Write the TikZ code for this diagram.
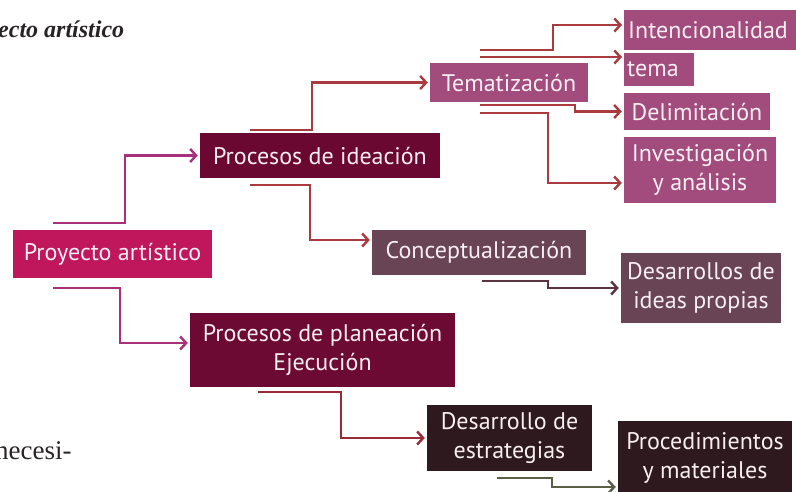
\documentclass[tikz,border=0pt]{standalone}
\usepackage{fontspec}
\newfontfamily\boxfont{PT Sans}
\newfontfamily\serffont{Liberation Serif}
\usetikzlibrary{arrows.meta}
\definecolor{proyC}{RGB}{192,22,92}
\definecolor{ideC}{RGB}{106,8,50}
\definecolor{temC}{RGB}{162,76,126}
\definecolor{conC}{RGB}{104,68,84}
\definecolor{plaC}{RGB}{108,10,52}
\definecolor{estC}{RGB}{46,26,30}
\definecolor{boxtext}{RGB}{248,238,242}
\definecolor{magLine}{RGB}{168,48,122}
\definecolor{redLine}{RGB}{168,58,64}
\definecolor{conLine}{RGB}{90,52,64}
\definecolor{plaLine}{RGB}{154,42,53}
\definecolor{estLine}{RGB}{92,95,72}
\definecolor{titleC}{RGB}{40,36,38}
\begin{document}
\begin{tikzpicture}[x=1pt,y=-1pt,
  box/.style={rectangle, inner sep=0pt, text=boxtext, align=center,
    font=\boxfont\fontsize{24}{29}\selectfont},
  conn/.style={line width=2.4pt, shorten >=2pt,
    -{Straight Barb[length=6pt,width=13pt]}}]
\useasboundingbox (0,0) rectangle (796,491);

% top-left and bottom-left fragments of surrounding text
\node[anchor=base west, inner sep=0pt, text=titleC,
  font=\serffont\bfseries\itshape\fontsize{24}{26}\selectfont] (ttl) at (-2,37) {ecto artístico};
\node[anchor=base west, inner sep=0pt, text=titleC,
  font=\serffont\fontsize{27}{30}\selectfont] (nec) at (-5,459) {necesi-};

% boxes
\node[box, fill=proyC, minimum width=199pt, minimum height=48pt] (proy) at (112.5,254) {Proyecto artístico};
\node[box, fill=ideC, minimum width=240pt, minimum height=45pt] (ide) at (320,155.5) {Procesos de ideación};
\node[box, fill=temC, minimum width=158pt, minimum height=39pt] (tem) at (509,82.5) {Tematización};
\node[box, fill=temC, minimum height=40pt, text width=166pt, inner xsep=4pt, align=left, anchor=west] (int) at (624,30) {Intencionalidad};
\node[box, fill=temC, minimum height=33pt, text width=64pt, inner xsep=3pt, align=left, anchor=west] (tema) at (624,69.5) {tema};
\node[box, fill=temC, minimum width=146pt, minimum height=37pt] (del) at (697,111.5) {Delimitación};
\node[box, fill=temC, minimum width=152pt, minimum height=66pt] (inv) at (700,170) {Investigación\\y análisis};
\node[box, fill=conC, minimum width=214pt, minimum height=45pt] (con) at (479,252.5) {Conceptualización};
\node[box, fill=conC, minimum width=160pt, minimum height=70pt] (des) at (701,288) {Desarrollos de\\ideas propias};
\node[box, fill=plaC, minimum width=265pt, minimum height=74pt] (pla) at (322.5,350) {Procesos de planeación\\Ejecución};
\node[box, fill=estC, minimum width=165pt, minimum height=66pt] (est) at (509.5,438) {Desarrollo de\\estrategias};
\node[box, fill=estC, minimum width=174pt, minimum height=74pt] (pro) at (705,458) {Procedimientos\\y materiales};

% connector tails
\coordinate (t1) at (53,223);
\coordinate (t2) at (53,288);
\coordinate (t3) at (250,130);
\coordinate (t4) at (250,185);
\coordinate (t5) at (480,50);
\coordinate (t6) at (480,57);
\coordinate (t7) at (480,105);
\coordinate (t8) at (480,113);
\coordinate (t9) at (482,281);
\coordinate (t10) at (258,392);
\coordinate (t11) at (497,478);

% connectors
\draw[conn, magLine] (t1) -- (125,223) |- (ide.west);
\draw[conn, magLine] (t2) -- (120,288) |- ([yshift=7pt]pla.west);
\draw[conn, redLine] (t3) -- (312,130) |- (tem.west);
\draw[conn, redLine] (t4) -- (310,185) |- ([yshift=12.5pt]con.west);
\draw[conn, redLine] (t5) -- (553,50) |- ([yshift=5pt]int.west);
\draw[conn, redLine] (t6) -- (tema.west |- t6);
\draw[conn, redLine] (t7) -- (575,105) |- (del.west);
\draw[conn, redLine] (t8) -- (548,113) |- ([yshift=-13pt]inv.west);
\draw[conn, conLine] (t9) -- (548,281) |- (des.west);
\draw[conn, plaLine] (t10) -- (341,392) |- (est.west);
\draw[conn, estLine] (t11) -- (552,478) |- ([yshift=-29pt]pro.west);
\end{tikzpicture}
\end{document}
